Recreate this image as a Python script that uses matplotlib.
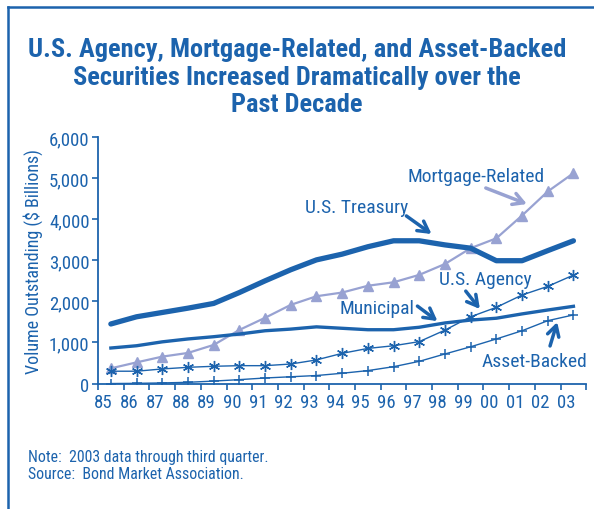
import matplotlib.pyplot as plt
from matplotlib.lines import Line2D

years = ['85', '86', '87', '88', '89', '90', '91', '92', '93', '94',
         '95', '96', '97', '98', '99', '00', '01', '02', '03']
treasury = [1450, 1625, 1730, 1835, 1950, 2215, 2500, 2770, 3010, 3150,
            3330, 3475, 3475, 3375, 3295, 2990, 2990, 3235, 3475]
mortgage = [370, 515, 655, 745, 940, 1305, 1600, 1915, 2125, 2215,
            2380, 2465, 2645, 2910, 3295, 3535, 4090, 4675, 5120]
municipal = [865, 920, 1015, 1085, 1140, 1205, 1285, 1325, 1380, 1345,
             1310, 1310, 1370, 1475, 1545, 1590, 1695, 1790, 1880]
agency = [300, 300, 355, 395, 420, 435, 435, 475, 575, 735,
          855, 920, 1020, 1300, 1625, 1855, 2155, 2365, 2640]
asset_backed = [0, 5, 15, 30, 60, 95, 135, 165, 195, 250,
                315, 410, 540, 720, 895, 1085, 1285, 1530, 1670]
y_ticks = [0, 1000, 2000, 3000, 4000, 5000, 6000]

BLUE = '#1c63ad'
LAV = '#98a2d2'
plt.rcParams['font.family'] = ['Roboto Condensed', 'DejaVu Sans']

fig = plt.figure(figsize=(5.94, 5.10), dpi=100)
ax = fig.add_axes([0.165, 0.246, 0.822, 0.4833])

# each year sits in the middle of its slot
x = [i + 0.5 for i in range(len(years))]

ax.plot(x, mortgage, color=LAV, lw=1.6, marker='^', ms=7, zorder=2)
ax.plot(x, municipal, color=BLUE, lw=2.4, zorder=3)
ax.plot(x, agency, color=BLUE, lw=1.0, marker=(6, 2, 0), ms=8, mew=1.0, zorder=4)
ax.plot(x, asset_backed, color=BLUE, lw=1.0, marker='+', ms=7, mew=1.1, zorder=4)
ax.plot(x, treasury, color=BLUE, lw=3.8, solid_capstyle='round', zorder=5)

ax.set_xlim(0, len(years))
ax.set_ylim(0, 6000)
ax.set_yticks(y_ticks)
ax.set_yticklabels([f'{v:,}' for v in y_ticks])
ax.set_xticks(range(len(years) + 1))
ax.set_xticklabels([])
ax.set_xticks([v - 0.28 for v in x], minor=True)
ax.set_xticklabels(years, minor=True)
ax.tick_params(axis='x', which='major', direction='out', length=4, width=1.2, color=BLUE)
ax.tick_params(axis='x', which='minor', length=0, pad=7, labelsize=13.5, labelcolor=BLUE)
ax.tick_params(axis='y', direction='out', length=4, width=1.2, color=BLUE,
               labelsize=13.5, labelcolor=BLUE, pad=2)
for side in ('top', 'right'):
    ax.spines[side].set_visible(False)
for side in ('left', 'bottom'):
    ax.spines[side].set_color(BLUE)
    ax.spines[side].set_linewidth(1.3)
ax.set_ylabel('Volume Outstanding ($ Billions)', color=BLUE, fontsize=13, labelpad=4)

# series labels with open arrowheads
arrow = dict(arrowstyle='->,head_length=0.75,head_width=0.42', color=BLUE, lw=2.5,
             shrinkA=0, shrinkB=0)
series_labels = [
    ('Mortgage-Related', (14.72, 5050), (15.09, 4760), (16.69, 4370), LAV),
    ('U.S. Treasury', (10.05, 4300), (12.0, 4080), (12.98, 3640), BLUE),
    ('U.S. Agency', (15.07, 2545), (14.31, 2250), (14.86, 1815), BLUE),
    ('Municipal', (10.87, 1840), (12.43, 1885), (13.21, 1520), BLUE),
    ('Asset-Backed', (17.0, 550), (17.59, 915), (17.87, 1495), BLUE),
]
for text, pos, tail, tip, col in series_labels:
    ax.text(*pos, text, color=BLUE, fontsize=14, ha='center', va='center')
    ax.annotate('', xy=tip, xytext=tail, arrowprops=dict(arrow, color=col))

fig.text(0.5, 0.848, 'U.S. Agency, Mortgage-Related, and Asset-Backed\n'
         'Securities Increased Dramatically over the\nPast Decade',
         ha='center', va='center', color=BLUE, fontsize=19, fontweight='bold',
         linespacing=1.17)
fig.text(0.047, 0.103, 'Note:  2003 data through third quarter.', color=BLUE, fontsize=11.4,
         va='center')
fig.text(0.047, 0.070, 'Source:  Bond Market Association.', color=BLUE, fontsize=11.4,
         va='center')

# frame along top and left edges
fig.add_artist(Line2D([8 / 594, 8 / 594], [0, 1 - 8 / 510], color=BLUE, lw=1.8))
fig.add_artist(Line2D([8 / 594, 1], [1 - 8 / 510, 1 - 8 / 510], color=BLUE, lw=1.8))

fig.savefig('out.png', dpi=100)
